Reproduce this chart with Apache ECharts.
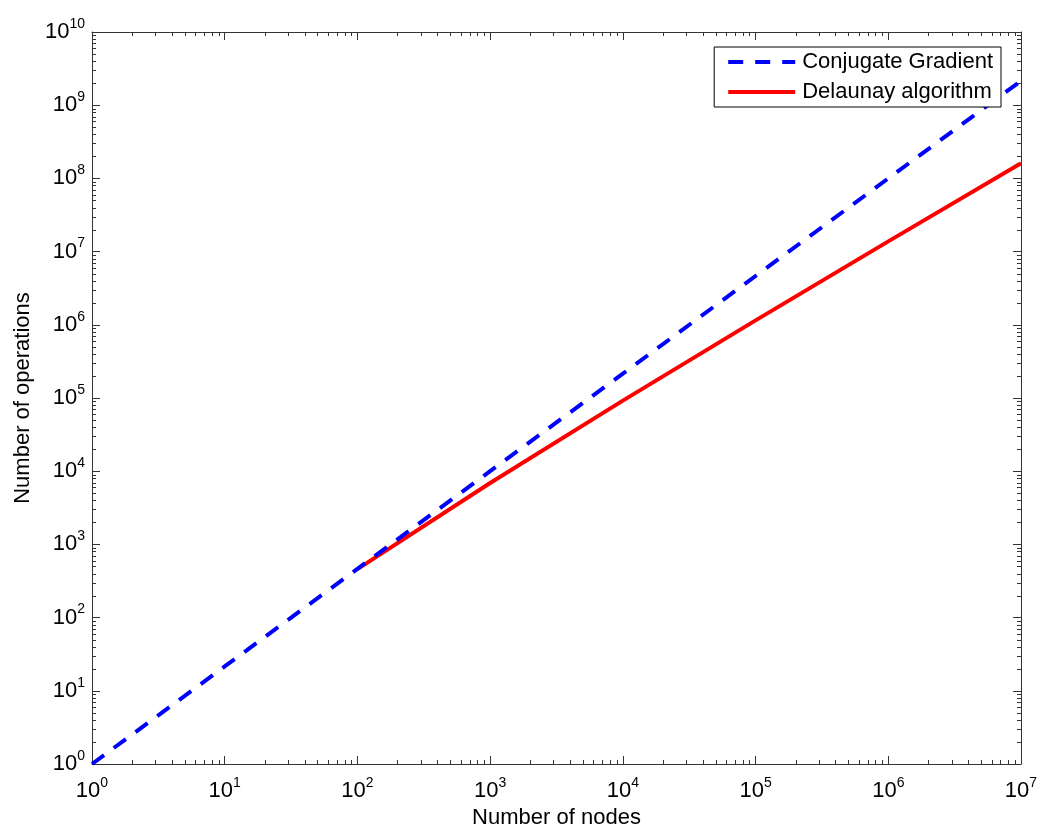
<!DOCTYPE html>
<html>
<head>
<meta charset="utf-8">
<script src="https://cdn.jsdelivr.net/npm/echarts@6/dist/echarts.min.js"></script>
<style>
  html, body { margin: 0; padding: 0; background: #fff; }
  #main { width: 1050px; height: 837px; }
</style>
</head>
<body>
<div id="main"></div>
<script>
// values (log-log plot)
const cgNodes = [1, 10, 100, 1000, 1e4, 1e5, 1e6, 1e7]
const cgOps = [1, 21.5, 464, 1.0e4, 2.15e5, 4.64e6, 1.0e8, 2.15e9]
const dtNodes = [100, 1000, 1e4, 1e5, 1e6, 1e7]
const dtOps = [460, 6900, 9.2e4, 1.15e6, 1.38e7, 1.61e8]

const seriesNames = ['Conjugate Gradient', 'Delaunay algorithm']
const xName = 'Number of nodes'
const yName = 'Number of operations'

const FONT = 'Liberation Sans, Arial, sans-serif'
const AXIS_COLOR = '#333'

const chart = echarts.init(document.getElementById('main'), null, { renderer: 'canvas' })

// tick label 10^n with superscript
function powLabel(v) {
  const e = Math.round(Math.log10(v))
  return '{b|10}{s|' + e + '}'
}

const richPow = {
  b: { fontSize: 22, lineHeight: 22, fontFamily: FONT, color: '#000', verticalAlign: 'bottom' },
  s: { fontSize: 14, lineHeight: 14, fontFamily: FONT, color: '#000', verticalAlign: 'bottom', padding: [0, 0, 12, 0] }
}

function toPairs(xs, ys) {
  return xs.map((x, i) => [x, ys[i]])
}

// minor ticks at 2..9 x 10^k, drawn through the axis scales
function renderMinorTicks(params, api) {
  const cs = params.coordSys
  const top = cs.y
  const bottom = cs.y + cs.height
  const left = cs.x
  const right = cs.x + cs.width
  const len = 4
  const children = []
  const style = { stroke: AXIS_COLOR, lineWidth: 1 }
  for (let k = 0; k < 7; k++) {
    for (let m = 2; m <= 9; m++) {
      const px = Math.round(api.coord([m * Math.pow(10, k), 1])[0]) + 0.5
      children.push({ type: 'line', shape: { x1: px, y1: bottom, x2: px, y2: bottom - len }, style })
      children.push({ type: 'line', shape: { x1: px, y1: top, x2: px, y2: top + len }, style })
    }
  }
  for (let k = 0; k < 10; k++) {
    for (let m = 2; m <= 9; m++) {
      const py = Math.round(api.coord([1, m * Math.pow(10, k)])[1]) + 0.5
      children.push({ type: 'line', shape: { x1: left, y1: py, x2: left + len, y2: py }, style })
      children.push({ type: 'line', shape: { x1: right, y1: py, x2: right - len, y2: py }, style })
    }
  }
  return { type: 'group', children }
}

const axisLine = { show: true, lineStyle: { color: AXIS_COLOR, width: 1 } }
const axisTick = { show: true, inside: true, length: 8, lineStyle: { color: AXIS_COLOR, width: 1 } }

const option = {
  animation: false,
  backgroundColor: '#fff',
  textStyle: { fontFamily: FONT },
  grid: { left: 92, right: 29, top: 32, bottom: 73, containLabel: false },
  legend: {
    data: seriesNames,
    orient: 'vertical',
    right: 49,
    top: 47,
    backgroundColor: '#fff',
    borderColor: '#000',
    borderWidth: 1,
    borderRadius: 0,
    padding: [4, 8, 4, 12],
    itemWidth: 67,
    itemHeight: 20,
    itemGap: 8,
    itemStyle: { opacity: 0 },
    lineStyle: { width: 4 },
    textStyle: { fontSize: 22, fontFamily: FONT, color: '#000', padding: [0, 0, 0, 2] }
  },
  xAxis: [
    {
      type: 'log',
      logBase: 10,
      min: 1,
      max: 1e7,
      interval: 1,
      position: 'bottom',
      name: xName,
      nameLocation: 'middle',
      nameGap: 43,
      nameTextStyle: { fontSize: 22, fontFamily: FONT, color: '#000' },
      axisLine,
      axisTick,
      axisLabel: { margin: 16, formatter: powLabel, rich: richPow },
      splitLine: { show: false }
    },
    {
      type: 'log',
      logBase: 10,
      min: 1,
      max: 1e7,
      interval: 1,
      position: 'top',
      axisLine,
      axisTick,
      axisLabel: { show: false },
      splitLine: { show: false }
    }
  ],
  yAxis: [
    {
      type: 'log',
      logBase: 10,
      min: 1,
      max: 1e10,
      interval: 1,
      position: 'left',
      name: yName,
      nameLocation: 'middle',
      nameGap: 58,
      nameTextStyle: { fontSize: 22, fontFamily: FONT, color: '#000' },
      axisLine,
      axisTick,
      axisLabel: { margin: 7, formatter: powLabel, rich: richPow },
      splitLine: { show: false }
    },
    {
      type: 'log',
      logBase: 10,
      min: 1,
      max: 1e10,
      interval: 1,
      position: 'right',
      axisLine,
      axisTick,
      axisLabel: { show: false },
      splitLine: { show: false }
    }
  ],
  series: [
    {
      name: seriesNames[0],
      type: 'line',
      data: toPairs(cgNodes, cgOps),
      symbol: 'none',
      z: 3,
      lineStyle: { color: '#0000ff', width: 4, type: [15, 12] },
      itemStyle: { color: '#0000ff' }
    },
    {
      name: seriesNames[1],
      type: 'line',
      data: toPairs(dtNodes, dtOps),
      symbol: 'none',
      z: 2,
      lineStyle: { color: '#ff0000', width: 4 },
      itemStyle: { color: '#ff0000' }
    },
    {
      type: 'custom',
      name: 'minorTicks',
      silent: true,
      clip: false,
      data: [[1, 1]],
      renderItem: renderMinorTicks
    }
  ]
}

chart.setOption(option)
</script>
</body>
</html>
